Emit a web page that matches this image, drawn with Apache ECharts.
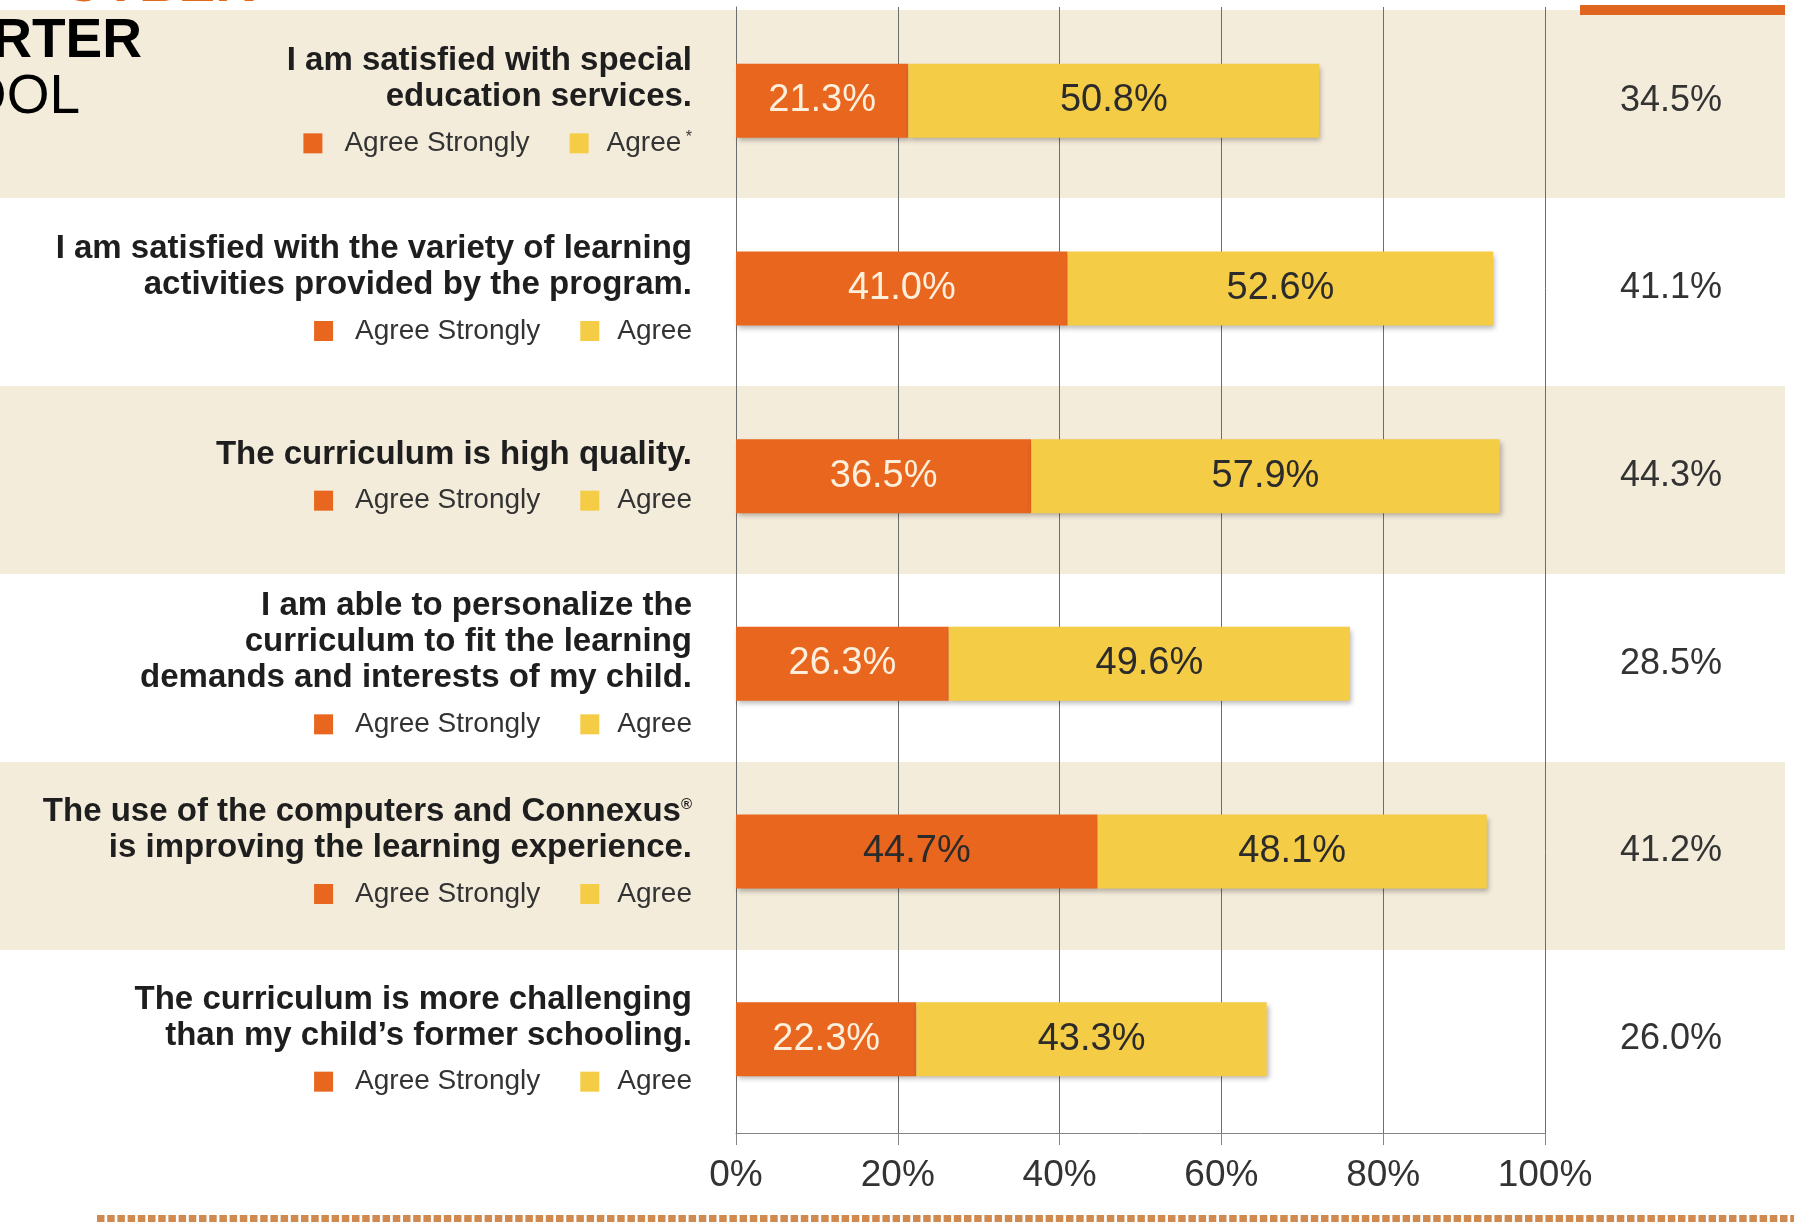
<!DOCTYPE html>
<html>
<head>
<meta charset="utf-8">
<script src="https://cdn.jsdelivr.net/npm/echarts@6/dist/echarts.min.js"></script>
<style>
  html, body { margin: 0; padding: 0; background: #fff; }
  #chart { width: 1794px; height: 1225px; }
</style>
</head>
<body>
<div id="chart"></div>
<script>
// survey statements, top to bottom
var questions = [
  'I am satisfied with special\neducation services.',
  'I am satisfied with the variety of learning\nactivities provided by the program.',
  'The curriculum is high quality.',
  'I am able to personalize the\ncurriculum to fit the learning\ndemands and interests of my child.',
  'The use of the computers and Connexus®\nis improving the learning experience.',
  'The curriculum is more challenging\nthan my child\u2019s former schooling.'
];
var agreeStrongly = [21.3, 41.0, 36.5, 26.3, 44.7, 22.3];
var agree = [50.8, 52.6, 57.9, 49.6, 48.1, 43.3];
var otherPct = [34.5, 41.1, 44.3, 28.5, 41.2, 26.0]; // right hand column
var legendNames = ['Agree Strongly', 'Agree'];

var FONT = "'Liberation Sans', Arial, sans-serif";
var ORANGE = '#e8661e';
var YELLOW = '#f5cc45';

var chart = echarts.init(document.getElementById('chart'));

// question text + the little per-row key under it
function questionLabel(value, index) {
  var lines = value.split('\n').map(function (ln) {
    return ln.split('®').map(function (s) {
      return s ? '{q|' + s + '}' : '';
    }).join('{sup|®}');
  });
  var key = '{sq1| }{g1| }{lg|' + legendNames[0] + '}{g2| }{sq2| }{g3| }{lg|' + legendNames[1] + '}';
  if (index === 0) key += '{ast| *}';
  return lines.join('\n') + '\n' + key;
}

var barShadow = {
  shadowBlur: 5,
  shadowColor: 'rgba(0,0,0,0.28)',
  shadowOffsetX: 2,
  shadowOffsetY: 3
};

var option = {
  animation: false,
  backgroundColor: '#ffffff',
  textStyle: { fontFamily: FONT },
  grid: [
    { left: 0, right: 9, top: 10, bottom: 87 },   // background stripes
    { left: 736, right: 249, top: 7, bottom: 92 } // bars
  ],
  xAxis: [
    { gridIndex: 0, type: 'value', show: false, min: 0, max: 1 },
    {
      gridIndex: 1,
      type: 'value',
      min: 0,
      max: 100,
      interval: 20,
      axisLine: { show: true, lineStyle: { color: '#858585', width: 1 } },
      axisTick: { show: true, length: 12, lineStyle: { color: '#858585' } },
      axisLabel: { formatter: '{value}%', fontSize: 37, color: '#333', margin: 24, fontFamily: FONT },
      splitLine: { show: true, lineStyle: { color: '#6e6e6e', width: 1 } }
    }
  ],
  yAxis: [
    {
      gridIndex: 0,
      type: 'category',
      inverse: true,
      data: questions,
      z: -1,
      axisLine: { show: false },
      axisTick: { show: false },
      axisLabel: { show: false },
      splitLine: { show: false },
      splitArea: { show: true, areaStyle: { color: ['#f4ecdb', '#ffffff'] } }
    },
    {
      gridIndex: 1,
      type: 'category',
      position: 'left',
      inverse: true,
      data: questions,
      axisLine: { show: true, lineStyle: { color: '#6e6e6e', width: 1 } },
      axisTick: { show: false },
      axisLabel: {
        interval: 0,
        margin: 44,
        padding: [13, 0, 0, 0],
        formatter: questionLabel,
        rich: {
          q: { fontFamily: FONT, fontSize: 33, fontWeight: 'bold', color: '#1e1e1e', lineHeight: 36 },
          sup: { fontFamily: FONT, fontSize: 15, fontWeight: 'bold', color: '#1e1e1e', lineHeight: 36, padding: [0, 0, 14, 0] },
          lg: { fontFamily: FONT, fontSize: 28, color: '#333', lineHeight: 56 },
          ast: { fontFamily: FONT, fontSize: 16, color: '#333', lineHeight: 56, padding: [0, 0, 12, 0] },
          sq1: { width: 19, height: 20, backgroundColor: ORANGE, lineHeight: 56 },
          sq2: { width: 19, height: 20, backgroundColor: YELLOW, lineHeight: 56 },
          g1: { width: 22, lineHeight: 56 },
          g2: { width: 40, lineHeight: 56 },
          g3: { width: 18, lineHeight: 56 }
        }
      }
    },
    {
      gridIndex: 1,
      type: 'category',
      position: 'right',
      inverse: true,
      data: questions,
      axisLine: { show: false },
      axisTick: { show: false },
      axisLabel: {
        interval: 0,
        margin: 75,
        align: 'left',
        fontSize: 36,
        color: '#333',
        fontFamily: FONT,
        formatter: function (v, i) { return otherPct[i].toFixed(1) + '%'; }
      }
    }
  ],
  series: [
    {
      name: legendNames[0],
      type: 'bar',
      stack: 'total',
      xAxisIndex: 1,
      yAxisIndex: 1,
      barWidth: 74,
      itemStyle: Object.assign({ color: ORANGE }, barShadow),
      label: {
        show: true,
        position: 'inside',
        fontSize: 38,
        fontFamily: FONT,
        formatter: function (p) { return p.value.toFixed(1) + '%'; }
      },
      data: agreeStrongly.map(function (v, i) {
        // the 44.7% label is dark in the original
        return { value: v, label: { color: i === 4 ? '#2b2b2b' : '#fcefdc' } };
      })
    },
    {
      name: legendNames[1],
      type: 'bar',
      stack: 'total',
      xAxisIndex: 1,
      yAxisIndex: 1,
      barWidth: 74,
      itemStyle: Object.assign({ color: YELLOW }, barShadow),
      label: {
        show: true,
        position: 'inside',
        fontSize: 38,
        fontFamily: FONT,
        color: '#2b2b2b',
        formatter: function (p) { return p.value.toFixed(1) + '%'; }
      },
      data: agree
    }
  ],
  graphic: [
    // bits of the slide heading that are cut off at the left edge
    {
      type: 'text', x: 255, y: -14, z: 10,
      style: { text: 'CYBER', font: 'bold 55px ' + FONT, fill: '#e36a1c', align: 'right', verticalAlign: 'middle', textAlign: 'right', textVerticalAlign: 'middle' }
    },
    {
      type: 'text', x: 142, y: 42, z: 10,
      style: { text: 'RTER', font: 'bold 55px ' + FONT, fill: '#000', align: 'right', verticalAlign: 'middle', textAlign: 'right', textVerticalAlign: 'middle' }
    },
    {
      type: 'text', x: 80, y: 98, z: 10,
      style: { text: 'OOL', font: '55px ' + FONT, fill: '#000', align: 'right', verticalAlign: 'middle', textAlign: 'right', textVerticalAlign: 'middle' }
    },
    {
      type: 'rect', z: 10,
      shape: { x: 1580, y: 5, width: 205, height: 10 },
      style: { fill: '#e0651e' }
    },
    {
      type: 'line', z: 10,
      shape: { x1: 97, y1: 1218.5, x2: 1794, y2: 1218.5 },
      style: { stroke: '#d08a50', lineWidth: 7, lineDash: [7.5, 2.7] }
    }
  ]
};

chart.setOption(option);
</script>
</body>
</html>
